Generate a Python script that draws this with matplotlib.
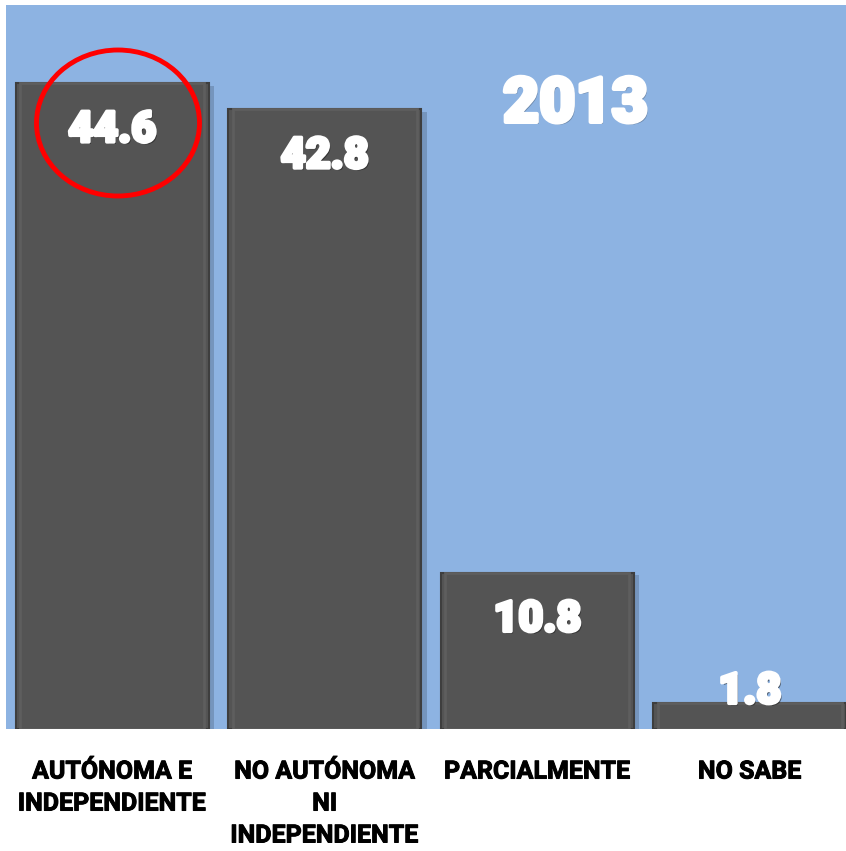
import matplotlib
matplotlib.use("Agg")
import matplotlib.pyplot as plt
import matplotlib.patheffects as pe
from matplotlib.patches import Ellipse

categories = ["AUTÓNOMA E\nINDEPENDIENTE", "NO AUTÓNOMA\nNI\nINDEPENDIENTE", "PARCIALMENTE", "NO SABE"]
values = [44.6, 42.8, 10.8, 1.8]
value_labels = ["44.6", "42.8", "10.8", "1.8"]
title_text = "2013"

BG = "#8db3e2"
BAR = "#545454"

fig = plt.figure(figsize=(8.46, 8.51), dpi=100)
W, H = 846, 851
ax = fig.add_axes([6 / W, (H - 729) / H, 850 / W, (729 - 5) / H])
ax.set_facecolor(BG)

x = list(range(len(values)))
bars = ax.bar(x, values, width=0.91, color=BAR, edgecolor="#3e3e3e", linewidth=1.5, zorder=3)
for b in bars:
    b.set_path_effects([pe.SimplePatchShadow(offset=(4, -2), shadow_rgbFace="#4a5f7a", alpha=0.35), pe.Normal()])
    ax.bar(b.get_x() + b.get_width() / 2, b.get_height(), width=b.get_width() * 0.95,
           bottom=0, color="none", edgecolor="#5e5e5e", linewidth=2.0, zorder=4)

ax.set_xlim(-0.5, len(values) - 0.5)
ax.set_ylim(0, 50)

val_effects = [pe.SimplePatchShadow(offset=(1.5, -1.5), shadow_rgbFace="#1e1e1e", alpha=0.6),
               pe.Stroke(linewidth=2.5, foreground="white"), pe.Normal()]
for i, v in enumerate(values):
    off = -34 if v > 5 else 8
    ax.annotate(value_labels[i], xy=(i, v), xytext=(0, off), textcoords="offset points",
                ha="center", va="center", color="white", fontsize=31, fontweight="black",
                family=["Roboto", "DejaVu Sans"], path_effects=val_effects, zorder=6)

ax.text(0.67, 0.862, title_text, transform=ax.transAxes, ha="center", va="center",
        color="white", fontsize=45, fontweight="black", family=["Roboto", "DejaVu Sans"],
        path_effects=[pe.SimplePatchShadow(offset=(1.5, -1.5), shadow_rgbFace="#4a5a70", alpha=0.5),
                      pe.Stroke(linewidth=3, foreground="white"), pe.Normal()], zorder=6)

ell = Ellipse((118 / W, (H - 123) / H), 163 / W, 146 / H, transform=fig.transFigure,
              fill=False, edgecolor="#ff0000", linewidth=3.5, zorder=10)
fig.add_artist(ell)

ax.set_xticks(x)
ax.set_xticklabels(categories, fontsize=18, fontweight="bold", family=["Roboto", "DejaVu Sans"],
                   linespacing=1.42, va="top",
                   path_effects=[pe.Stroke(linewidth=0.7, foreground="black"), pe.Normal()])
ax.tick_params(axis="x", length=0, pad=22)
ax.set_yticks([])
for s in ax.spines.values():
    s.set_visible(False)

fig.savefig("out.png", dpi=100, facecolor="white")
